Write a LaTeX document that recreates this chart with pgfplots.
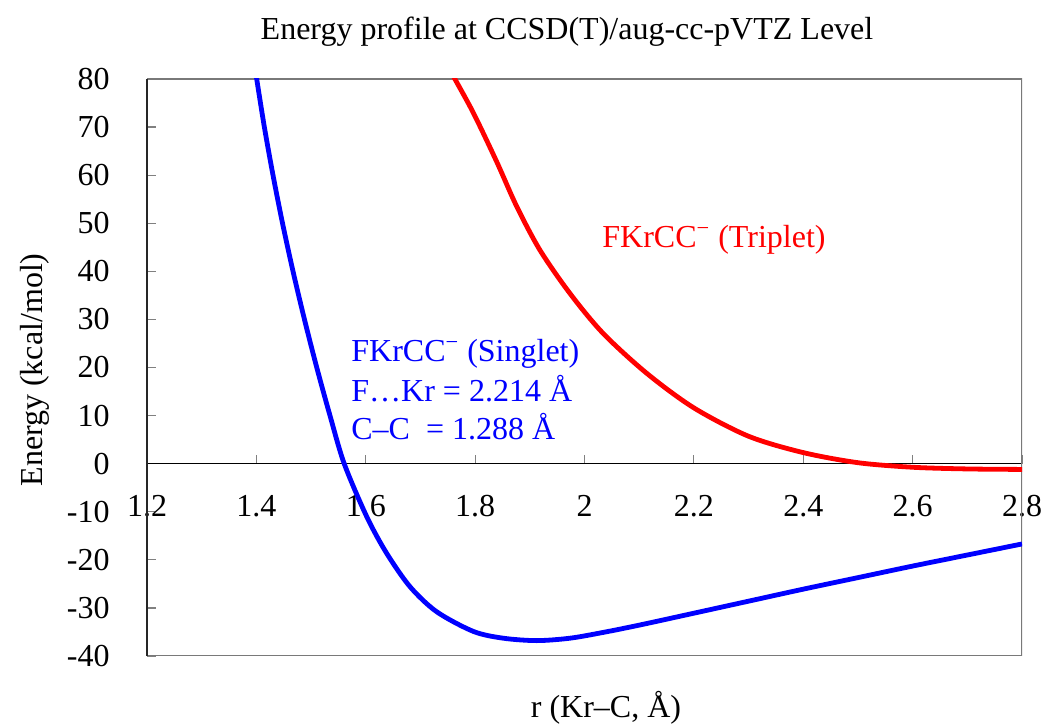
\documentclass[border=0pt]{standalone}
\usepackage{fontspec}
\setmainfont{Liberation Serif}
\usepackage{pgfplots}
\pgfplotsset{compat=1.18}

% Potential energy curves (kcal/mol) versus r(Kr-C) in angstrom
\newcommand{\sminus}{\textsuperscript{\char"2212}}

\begin{document}
\fontsize{16}{19}\selectfont
\begin{tikzpicture}
\path[use as bounding box] (0,0) rectangle (522pt,363pt);
\begin{axis}[
  at={(73.5pt,35pt)}, anchor=south west,
  scale only axis, width=437.5pt, height=288.5pt,
  xmin=1.2, xmax=2.8, ymin=-40, ymax=80,
  axis x line*=middle, axis y line*=left,
  axis line style={-},
  hide obscured x ticks=false, hide obscured y ticks=false,
  xtick={1.2,1.4,1.6,1.8,2,2.2,2.4,2.6,2.8},
  xticklabels={1.2,1.4,1.6,1.8,2,2.2,2.4,2.6,2.8},
  ytick={-40,-30,-20,-10,0,10,20,30,40,50,60,70,80},
  yticklabels={-40,-30,-20,-10,0,10,20,30,40,50,60,70,80},
  x axis line style={black, line width=0.6pt},
  y axis line style={black!85, line width=1pt},
  tick align=inside,
  major tick length=4.3pt,
  every tick/.style={gray, line width=0.6pt},
  tick label style={font=\fontsize{16}{19}\selectfont},
  xticklabel style={yshift=-10.2pt},
  yticklabel style={xshift=-13.2pt},
  clip=true,
]
% frame around the plot area
\draw[gray!95!black, line width=1.2pt]
  (rel axis cs:0,0) -- (rel axis cs:1,0) -- (rel axis cs:1,1) -- (rel axis cs:0,1);

% singlet
\addplot[blue, line width=2.4pt, smooth] coordinates {
(1.398,82) (1.4006,80) (1.4146,70) (1.4304,60) (1.4478,50) (1.4670,40)
(1.4879,30) (1.5104,20) (1.5346,10) (1.5606,0) (1.6017,-11.0)
(1.638,-18.6) (1.681,-25.6) (1.7297,-30.8) (1.797,-34.9) (1.8515,-36.3)
(1.9126,-36.8) (1.9734,-36.3) (2.034,-35.1) (2.1014,-33.55) (2.2,-31.1)
(2.3,-28.6) (2.4,-26.1) (2.5,-23.7) (2.6,-21.3) (2.7,-19.0) (2.8,-16.7)
};

% triplet
\addplot[red, line width=2.4pt, smooth] coordinates {
(1.7573,81.2) (1.763,80) (1.797,72.9) (1.8394,62.8) (1.876,53.5)
(1.9186,44.4) (1.9734,35.4) (2.034,27.1) (2.1137,18.8) (2.2,11.6)
(2.3,5.7) (2.4,2.3) (2.5,0.2) (2.6,-0.75) (2.7,-1.1) (2.8,-1.2)
};
\end{axis}

% left axis line drawn darker over the frame
\draw[black!85, line width=1pt] (73.5pt,35pt) -- (73.5pt,323.5pt);

\node at (283.5pt,347pt) {Energy profile at CCSD(T)/aug-cc-pVTZ Level};
\node at (303pt,9pt) {r (Kr\textendash C, Å)};
\node[rotate=90] at (17.5pt,178pt) {Energy (kcal/mol)};

\node[blue, anchor=base west, inner sep=0pt] at (175.5pt,182pt) {FKrCC\sminus{} (Singlet)};
\node[blue, anchor=base west, inner sep=0pt] at (175.5pt,162pt) {F…Kr = 2.214 Å};
\node[blue, anchor=base west, inner sep=0pt] at (175.5pt,143pt) {C\textendash C\ \ = 1.288 Å};

\node[red, anchor=base west, inner sep=0pt] at (301pt,239pt) {FKrCC\sminus{} (Triplet)};
\end{tikzpicture}
\end{document}
